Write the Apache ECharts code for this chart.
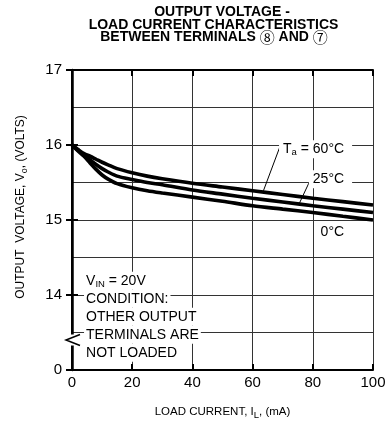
<!DOCTYPE html>
<html><head><meta charset="utf-8">
<script src="https://cdn.jsdelivr.net/npm/echarts@6/dist/echarts.min.js"></script>
<style>html,body{margin:0;padding:0;background:#fff}#c{width:388px;height:423px}</style>
</head><body><div id="c"></div>
<script>
// ---- data ----
const loadCurrent = [0, 2, 4, 6, 8, 10, 12, 15, 20, 25, 30, 40, 50, 60, 70, 80, 90, 100];
const vo60 = [16.0, 15.94, 15.885, 15.85, 15.81, 15.77, 15.735, 15.685, 15.63, 15.585, 15.55, 15.49, 15.44, 15.39, 15.34, 15.29, 15.245, 15.20];
const vo25 = [16.0, 15.93, 15.865, 15.80, 15.74, 15.685, 15.64, 15.585, 15.54, 15.50, 15.47, 15.40, 15.345, 15.29, 15.24, 15.19, 15.145, 15.10];
const vo0  = [16.0, 15.92, 15.85, 15.76, 15.675, 15.60, 15.545, 15.485, 15.43, 15.39, 15.36, 15.305, 15.25, 15.19, 15.145, 15.10, 15.05, 15.00];
const seriesNames = ['60°C', '25°C', '0°C'];
const yTickLabels = {13: '0', 14: '14', 15: '15', 16: '16', 17: '17'};
const titleLines = ['OUTPUT VOLTAGE -', 'LOAD CURRENT CHARACTERISTICS', 'BETWEEN TERMINALS {c|⑧} AND {c|⑦}'];
const xAxisName = 'LOAD CURRENT, I{sub|L}, (mA)';
const yAxisName = 'OUTPUT  VOLTAGE, V{sub|o}, (VOLTS)';
const curveLabels = [
  {text: 'T{sub|a} = 60°C', at: [90.4, 15.943]},
  {text: '25°C', at: [90.4, 15.543]},
  {text: '0°C', at: [90.4, 14.844]}
];
const leaderLines = [[[63.6, 15.39], [69.1, 15.98]], [[75.5, 15.22], [79.1, 15.527]]];
const conditionLines = ['V{sub|IN} = 20V', 'CONDITION:', 'OTHER OUTPUT', 'TERMINALS ARE', 'NOT LOADED'];
const conditionAnchor = [4.0, 14.19];
const breakValue = 13.4;

// ---- chart ----
const FONT = '"Liberation Sans", Arial, sans-serif';
const CIRCLE_FONT = '"Noto Sans CJK JP","Noto Sans CJK SC","DejaVu Sans",sans-serif';
const chart = echarts.init(document.getElementById('c'), null, {renderer: 'canvas'});
const black = '#000';
const gridColor = '#333';
const subRich = {sub: {fontSize: 9.5, lineHeight: 9, padding: [7, 0, 0, 0], fontFamily: FONT, color: black}};

function mkSeries(vals, name) {
  return {
    name, type: 'line', xAxisIndex: 0, yAxisIndex: 0,
    data: loadCurrent.map((x, i) => [x, vals[i]]),
    smooth: 0.3, showSymbol: false, silent: true,
    lineStyle: {color: black, width: 3.6}, z: 5
  };
}

chart.setOption({
  animation: false,
  backgroundColor: '#fff',
  grid: {left: 72, right: 15, top: 70, bottom: 53, containLabel: false, outerBoundsMode: 'none'},
  xAxis: [
    {type: 'value', min: 0, max: 100, interval: 20, position: 'bottom',
     axisLine: {show: true, lineStyle: {color: black, width: 2}},
     axisTick: {show: true, inside: true, length: 6, lineStyle: {color: black, width: 2}},
     axisLabel: {color: black, fontSize: 15, margin: 5, fontFamily: FONT},
     splitLine: {show: true, lineStyle: {color: gridColor, width: 1}},
     name: xAxisName, nameLocation: 'middle', nameGap: 36,
     nameTextStyle: {color: black, fontSize: 11.5, fontFamily: FONT, rich: subRich}},
    {type: 'value', min: 0, max: 100, interval: 20, position: 'top',
     axisLine: {show: true, lineStyle: {color: black, width: 2}},
     axisTick: {show: true, inside: true, length: 6, lineStyle: {color: black, width: 2}},
     axisLabel: {show: false}, splitLine: {show: false}}
  ],
  yAxis: [
    {type: 'value', min: 13, max: 17, interval: 0.5, position: 'left',
     axisLine: {show: true, lineStyle: {color: black, width: 2}},
     axisTick: {show: false},
     axisLabel: {color: black, fontSize: 15, margin: 10, fontFamily: FONT,
                 formatter: v => (yTickLabels[v] !== undefined ? yTickLabels[v] : '')},
     splitLine: {show: true, lineStyle: {color: gridColor, width: 1}}},
    {type: 'value', min: 13, max: 17, interval: 1, position: 'right',
     axisLine: {show: true, lineStyle: {color: black, width: 2.5}},
     axisTick: {show: true, inside: true, length: 6, lineStyle: {color: black, width: 2}},
     axisLabel: {show: false}, splitLine: {show: false}},
    {type: 'value', min: 13, max: 17, interval: 1, position: 'left',
     axisLine: {show: false},
     axisTick: {show: true, inside: true, length: 6, lineStyle: {color: black, width: 2}},
     axisLabel: {show: false}, splitLine: {show: false}}
  ],
  series: [mkSeries(vo60, seriesNames[0]), mkSeries(vo25, seriesNames[1]), mkSeries(vo0, seriesNames[2])]
});

const px = p => chart.convertToPixel({xAxisIndex: 0, yAxisIndex: 0}, p);
const g = [];
// title
const titleX = [222, 213.5, 214];
titleLines.forEach((t, i) => {
  g.push({type: 'text', x: titleX[i], y: 12.5 + 12.5 * i, z: 20,
    style: {text: t, align: 'center', verticalAlign: 'middle', fontSize: 14, fontWeight: 'bold',
      fontFamily: FONT, fill: black,
      rich: {c: {fontSize: 15, fontWeight: 'normal', fontFamily: CIRCLE_FONT, color: black}}}});
});
// y axis name
g.push({type: 'text', x: 21, y: 207, rotation: Math.PI / 2, z: 20,
  style: {text: yAxisName, align: 'center', verticalAlign: 'middle', fontSize: 12, fontFamily: FONT, fill: black,
    rich: {sub: {fontSize: 9, lineHeight: 9, padding: [7, 0, 0, 0], fontFamily: FONT, color: black}}}});
// curve labels
curveLabels.forEach(l => {
  const p = px(l.at);
  g.push({type: 'text', x: p[0] + 8, y: p[1], z: 20,
    style: {text: l.text, align: 'right', verticalAlign: 'middle', fontSize: 14, fontFamily: FONT, fill: black,
      backgroundColor: '#fff', padding: [2, 8, 2, 4], rich: subRich}});
});
// leader lines
leaderLines.forEach(seg => {
  const a = px(seg[0]), b = px(seg[1]);
  g.push({type: 'line', z: 19, shape: {x1: a[0], y1: a[1], x2: b[0], y2: b[1]}, style: {stroke: black, lineWidth: 1}});
});
// condition text
const ca = px(conditionAnchor);
conditionLines.forEach((t, i) => {
  g.push({type: 'text', x: ca[0], y: ca[1] + 18 * i, z: 20,
    style: {text: t, align: 'left', verticalAlign: 'middle', fontSize: 14, lineHeight: 18, fontFamily: FONT, fill: black,
      backgroundColor: '#fff', padding: [0, 2, 0, 2], rich: subRich}});
});
// axis break
const bp = px([0, breakValue]);
g.push({type: 'rect', z: 21, shape: {x: bp[0] - 4, y: bp[1] - 5.5, width: 8, height: 11}, style: {fill: '#fff'}});
g.push({type: 'polyline', z: 22, shape: {points: [[bp[0] + 8, bp[1] - 5.5], [bp[0] - 6, bp[1]], [bp[0] + 8, bp[1] + 5.5]]},
  style: {stroke: black, lineWidth: 1.5, fill: null}});

chart.setOption({graphic: g});
</script>
</body></html>
